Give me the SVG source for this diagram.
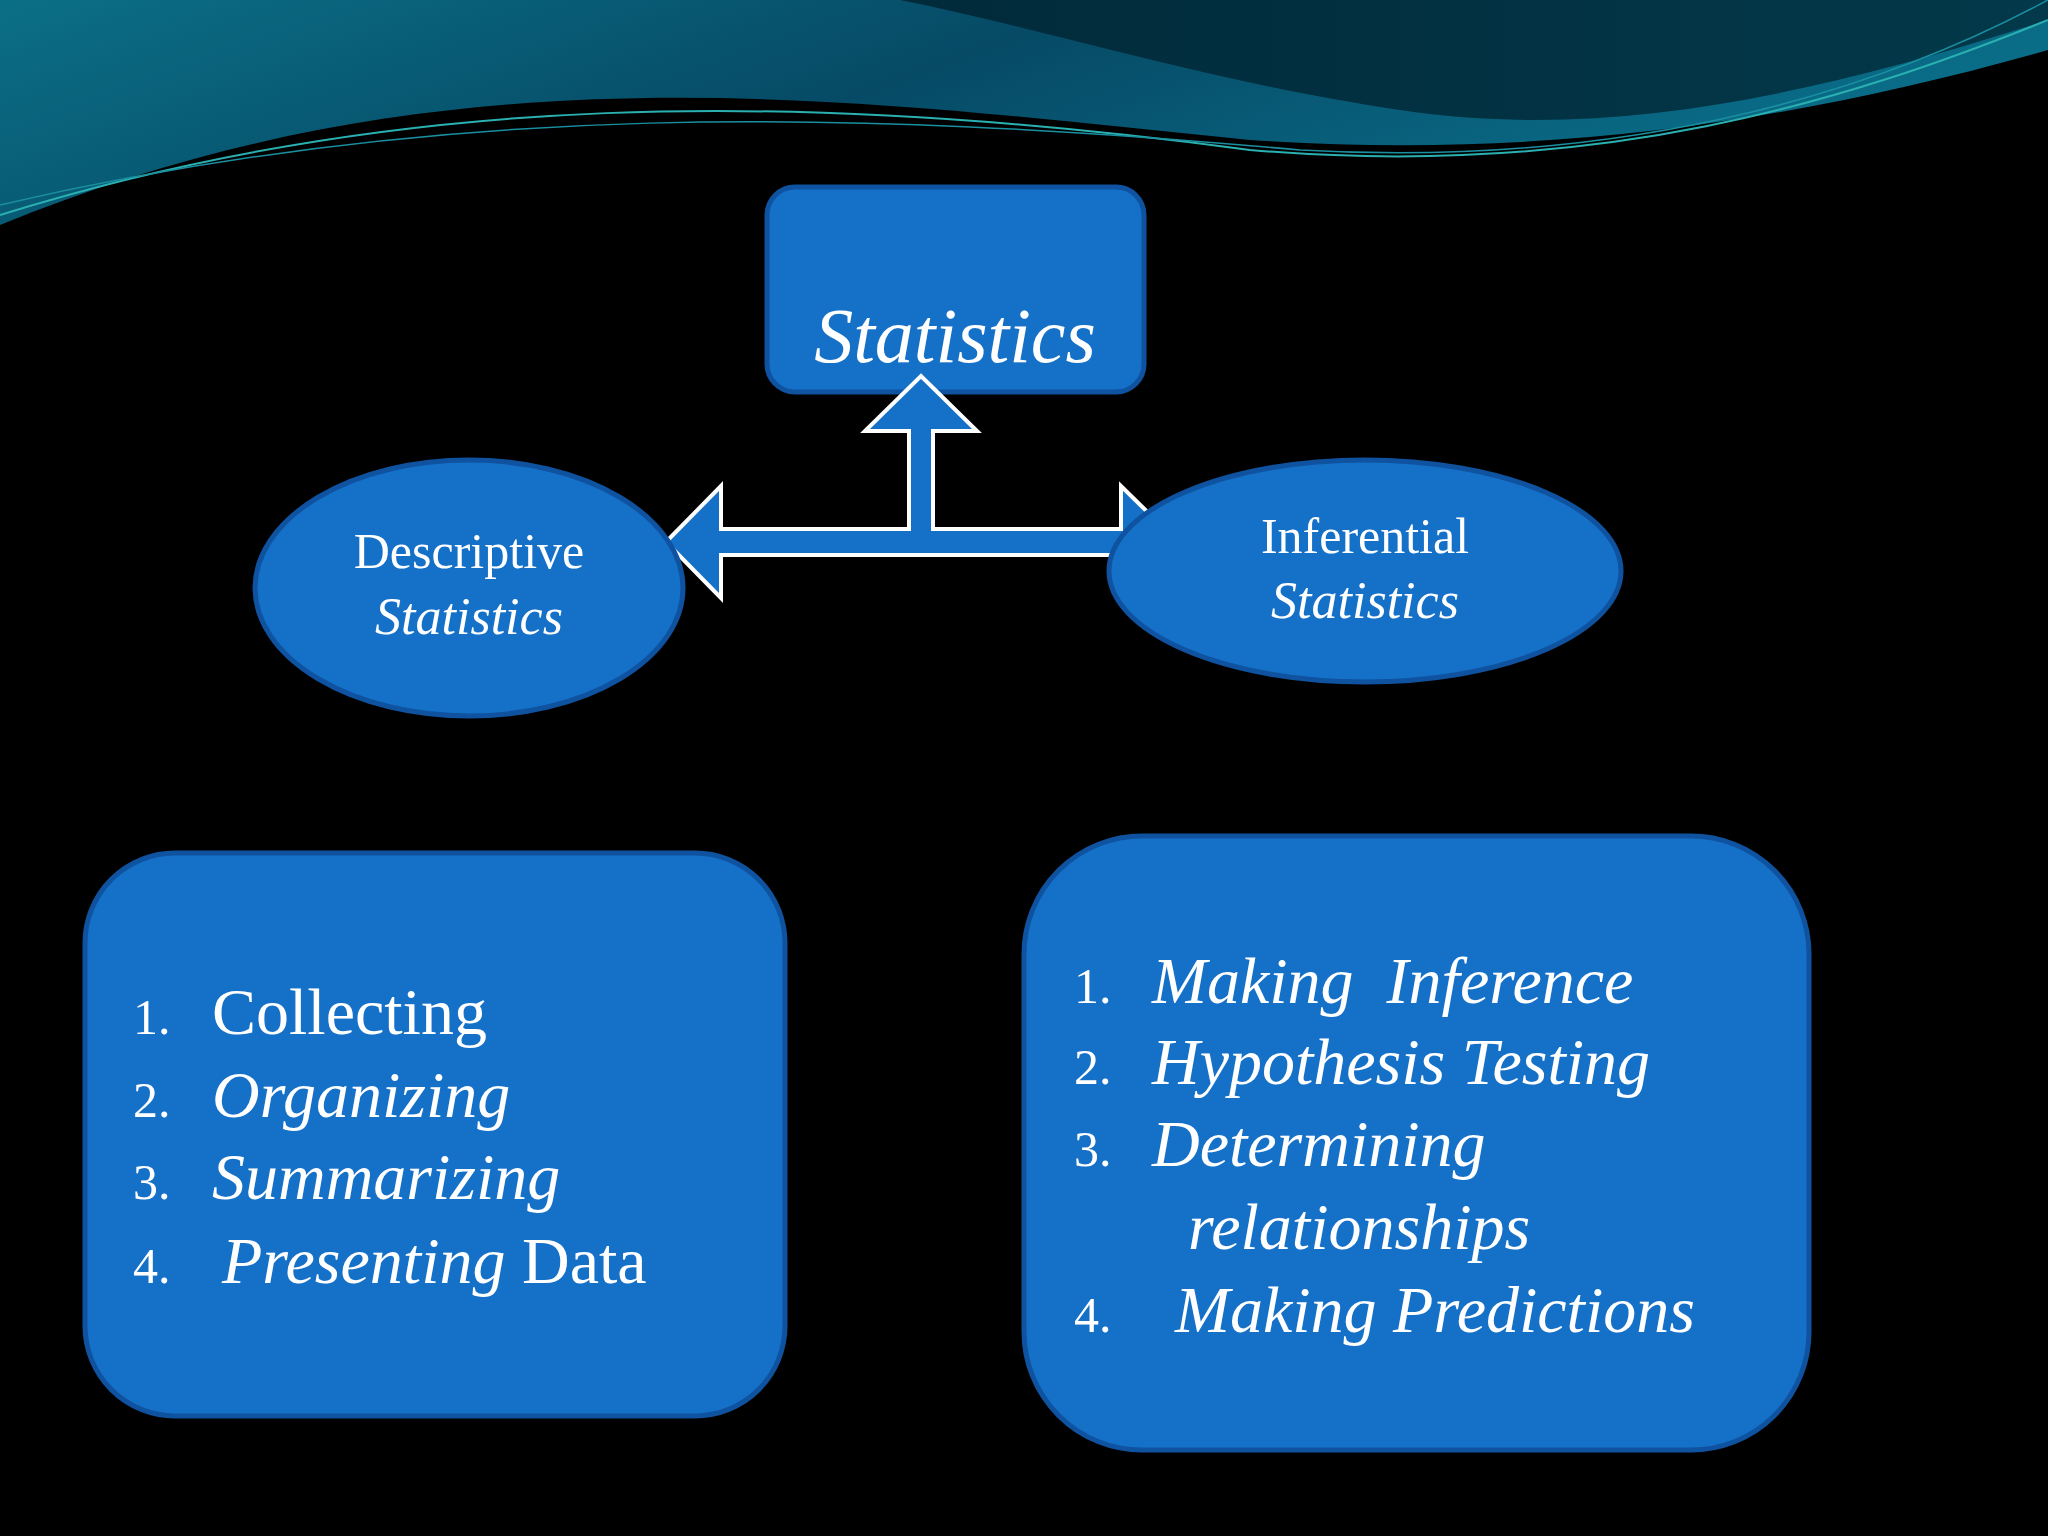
<svg xmlns="http://www.w3.org/2000/svg" width="2048" height="1536" viewBox="0 0 2048 1536">
<defs>
<linearGradient id="wave" x1="0" y1="0" x2="1" y2="0.3">
<stop offset="0" stop-color="#0b6f86"/>
<stop offset="0.5" stop-color="#064a66"/>
<stop offset="1" stop-color="#0a6f8a"/>
</linearGradient>
<linearGradient id="wave2" x1="0" y1="0" x2="1" y2="0">
<stop offset="0" stop-color="#012a3a"/>
<stop offset="1" stop-color="#03394a"/>
</linearGradient>
<style>
.box{fill:#1570c8;stroke:#0f53a0;stroke-width:5}
.t{font-family:"Liberation Serif","DejaVu Serif",serif;fill:#fff}
.i{font-style:italic}
</style>
</defs>
<rect width="2048" height="1536" fill="#000"/>
<g id="background">
<path d="M0,0 H2048 V50 C1800,120 1550,160 1250,140 C850,100 450,40 0,225 Z" fill="url(#wave)"/>
<path d="M900,0 H2048 V20 C1800,100 1600,140 1400,110 C1200,80 1050,30 900,0 Z" fill="url(#wave2)"/>
<path d="M0,215 C400,90 800,90 1250,150 C1600,180 1850,100 2048,20" fill="none" stroke="#2ab0b0" stroke-width="2"/>
<path d="M0,205 C450,100 850,110 1300,150 C1650,170 1900,80 2048,0" fill="none" stroke="#1a8fa0" stroke-width="1.5"/>
</g>
<g id="statistics">
<rect class="box" x="767" y="187" width="377" height="205" rx="28"/>
<text class="t i" x="955" y="362" font-size="78" text-anchor="middle">Statistics</text>
</g>
<g id="connectors">
<path d="M666,542 L721,486 L721,529 L909,529 L909,431 L865,431 L921,376 L977,431 L933,431 L933,529 L1121,529 L1121,486 L1178,542 L1121,598 L1121,555 L721,555 L721,598 Z" fill="#1570c8" stroke="#fff" stroke-width="4" stroke-linejoin="miter"/>
</g>
<g id="descriptive">
<ellipse class="box" cx="469" cy="588" rx="214" ry="128"/>
<text class="t" x="469" y="568" font-size="50" text-anchor="middle">Descriptive</text>
<text class="t i" x="469" y="634" font-size="52" text-anchor="middle">Statistics</text>
</g>
<g id="inferential">
<ellipse class="box" cx="1365" cy="571" rx="256" ry="111"/>
<text class="t" x="1365" y="553" font-size="50" text-anchor="middle">Inferential</text>
<text class="t i" x="1365" y="618" font-size="52" text-anchor="middle">Statistics</text>
</g>
<g id="descriptive-list">
<rect class="box" x="85" y="853" width="700" height="563" rx="90"/>
<g class="t" font-size="66">
<text x="133" y="1034" font-size="50">1.</text><text x="212" y="1034">Collecting</text>
<text x="133" y="1117" font-size="50">2.</text><text x="212" y="1117" class="i">Organizing</text>
<text x="133" y="1199" font-size="50">3.</text><text x="212" y="1199" class="i">Summarizing</text>
<text x="133" y="1283" font-size="50">4.</text><text x="222" y="1283"><tspan font-style="italic">Presenting</tspan> Data</text>
</g>
</g>
<g id="inferential-list">
<rect class="box" x="1024" y="836" width="785" height="614" rx="118"/>
<g class="t i" font-size="66">
<text x="1074" y="1003" font-size="50" font-style="normal">1.</text><text x="1152" y="1003" xml:space="preserve">Making  Inference</text>
<text x="1074" y="1084" font-size="50" font-style="normal">2.</text><text x="1152" y="1084">Hypothesis Testing</text>
<text x="1074" y="1166" font-size="50" font-style="normal">3.</text><text x="1152" y="1166">Determining</text>
<text x="1188" y="1249">relationships</text>
<text x="1074" y="1332" font-size="50" font-style="normal">4.</text><text x="1175" y="1332">Making Predictions</text>
</g>
</g>
</svg>
